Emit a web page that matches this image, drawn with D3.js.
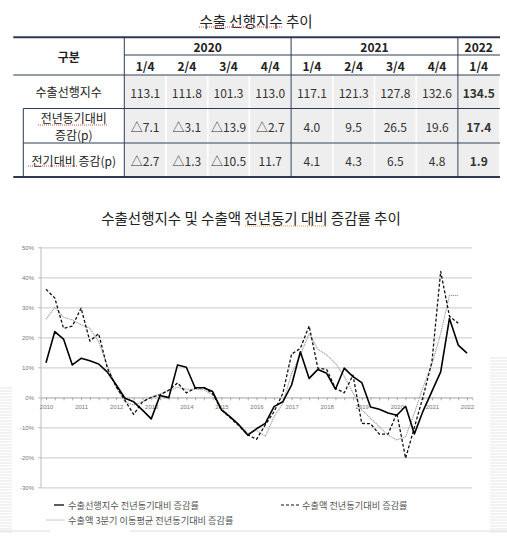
<!DOCTYPE html>
<html>
<head>
<meta charset="utf-8">
<script src="https://cdn.jsdelivr.net/npm/d3@7/dist/d3.min.js"></script>
<style>
body { margin: 0; background: #fff; }
svg { display: block; font-family: "Noto Sans CJK KR", "Noto Sans", sans-serif; }
</style>
</head>
<body>
<svg width="507" height="537"></svg>
<script>
// **** table data ****
var tableYears = ['2020', '2021', '2022'];
var yearSpan = [4, 4, 1];
var tableQuarters = ['1/4', '2/4', '3/4', '4/4', '1/4', '2/4', '3/4', '4/4', '1/4'];
var rowLabels = [['수출선행지수'], ['전년동기대비', '증감(p)'], ['전기대비 증감(p)']];
var leadIndex = ['113.1', '111.8', '101.3', '113.0', '117.1', '121.3', '127.8', '132.6', '134.5'];
var yoyChange = ['△7.1', '△3.1', '△13.9', '△2.7', '4.0', '9.5', '26.5', '19.6', '17.4'];
var qoqChange = ['△2.7', '△1.3', '△10.5', '11.7', '4.1', '4.3', '6.5', '4.8', '1.9'];

// **** chart data (%, quarterly, 2010 1/4 ~ 2022 1/4) ****
var chartYears = ['2010', '2011', '2012', '2013', '2014', '2015', '2016', '2017', '2018', '2019', '2020', '2021', '2022'];
var yTicks = [-30, -20, -10, 0, 10, 20, 30, 40, 50];
var leadYoy = [11.5, 21.9, 19.4, 10.8, 13.0, 12.2, 11.1, 8.4, 4.2, -0.3, -1.5, -4.3, -7.2, 0.6, -0.1, 10.8,
    10.0, 3.2, 3.2, 1.9, -4.2, -6.5, -9.2, -12.6, -10.5, -8.7, -3.1, -1.5, 4.1, 15.2, 6.3, 9.3,
    8.0, 2.7, 9.7, 6.9, 4.9, -3.2, -4.0, -5.2, -6.0, -3.0, -12.2, -4.5, 2.0, 8.5, 26.3, 17.4, 14.7];
var exportYoy = [36.0, 33.1, 23.0, 23.7, 29.7, 18.7, 21.2, 9.7, 3.5, -1.0, -5.7, -1.5, 0.0, 0.8, 2.4, 4.8,
    1.5, 3.0, 3.3, 1.2, -4.2, -6.8, -9.5, -12.5, -14.0, -9.2, -4.8, 1.3, 14.4, 16.3, 23.8, 9.7,
    9.3, 3.0, 1.5, 7.4, -8.7, -8.8, -12.3, -12.3, -5.3, -20.3, -10.0, 0.3, 11.8, 42.0, 27.0, 24.7];
var exportMa3Yoy = [26.0, 30.0, 26.7, 25.8, 24.2, 23.0, 18.5, 10.5, 3.5, -1.5, -2.6, -1.5, 0.0, 1.1, 2.2, 3.3,
    2.7, 2.7, 2.5, 0.8, -3.5, -6.5, -9.0, -12.0, -11.0, -13.0, -6.5, -2.0, 8.0, 14.0, 21.3, 16.0,
    14.1, 11.3, 7.0, 1.5, -4.2, -7.0, -9.8, -12.6, -14.2, -13.1, -5.3, 3.5, 11.0, 21.3, 34.0, 33.9];

var quarterKeys = [];
chartYears.forEach(function (y) {
    ['1', '2', '3', '4'].forEach(function (q) { quarterKeys.push(y + '.' + q); });
});
quarterKeys = quarterKeys.slice(0, leadYoy.length);

var svg = d3.select('svg');
var navy = '#2c3a56';

// **** table ****
var colX = d3.scaleBand().domain(d3.range(9)).range([124.3, 499.6]);
var rowY = [37.3, 55, 75, 108.5, 143, 177];
var bodyRows = [leadIndex, yoyChange, qoqChange];

svg.append('text')
    .attr('x', 256).attr('y', 20)
    .attr('text-anchor', 'middle').attr('dominant-baseline', 'central')
    .style('font-size', '14.5px').style('fill', '#222')
    .text('수출 선행지수 추이');

// grey cells
bodyRows.forEach(function (row, r) {
    svg.append('g').selectAll('rect')
        .data(row)
        .enter().append('rect')
        .attr('x', function (d, i) { return colX(i) + 0.8; })
        .attr('width', colX.bandwidth() - 1.6)
        .attr('y', rowY[r + 2] + 0.5)
        .attr('height', rowY[r + 3] - rowY[r + 2] - 1)
        .style('fill', '#eeeeee');
});

// rules
var hRules = [[13.3, 500, rowY[0], 2], [124.3, 500, rowY[1], 1], [13.3, 500, rowY[2], 1.2],
    [23.3, 500, rowY[3], 1], [23.3, 500, rowY[4], 1], [13.3, 500, rowY[5], 2]];
svg.append('g').selectAll('line')
    .data(hRules)
    .enter().append('line')
    .attr('x1', function (d) { return d[0]; })
    .attr('x2', function (d) { return d[1]; })
    .attr('y1', function (d) { return d[2]; })
    .attr('y2', function (d) { return d[2]; })
    .style('stroke', navy)
    .style('stroke-width', function (d) { return d[3]; });

var vRules = [[colX(0), rowY[0], rowY[5]], [colX(4), rowY[0], rowY[5]], [colX(8), rowY[0], rowY[5]], [23.3, rowY[3], rowY[5]]];
svg.append('g').selectAll('line')
    .data(vRules)
    .enter().append('line')
    .attr('x1', function (d) { return d[0]; })
    .attr('x2', function (d) { return d[0]; })
    .attr('y1', function (d) { return d[1]; })
    .attr('y2', function (d) { return d[2]; })
    .style('stroke', navy)
    .style('stroke-width', 1);

var cellText = function (sel) {
    return sel.attr('text-anchor', 'middle')
        .attr('dominant-baseline', 'central')
        .style('font-size', '12px');
};

svg.append('text').call(cellText)
    .attr('x', 68.7).attr('y', 56)
    .style('font-weight', 'bold').style('fill', '#222')
    .text('구분');

var spanStart = 0;
tableYears.forEach(function (y, i) {
    var x0 = colX(spanStart), x1 = colX(spanStart + yearSpan[i] - 1) + colX.bandwidth();
    svg.append('text').call(cellText)
        .attr('x', (x0 + x1) / 2).attr('y', 46)
        .style('font-weight', 'bold').style('fill', '#222')
        .text(y);
    spanStart += yearSpan[i];
});

svg.append('g').selectAll('text')
    .data(tableQuarters)
    .enter().append('text').call(cellText)
    .attr('x', function (d, i) { return colX(i) + colX.bandwidth() / 2; })
    .attr('y', 65.5)
    .style('font-weight', 'bold').style('fill', '#222')
    .text(function (d) { return d; });

var labelX = [68.7, 73.8, 73.8];
rowLabels.forEach(function (lines, r) {
    var mid = (rowY[r + 2] + rowY[r + 3]) / 2;
    svg.append('g').selectAll('text')
        .data(lines)
        .enter().append('text').call(cellText)
        .attr('x', labelX[r])
        .attr('y', function (d, i) { return mid + (i - (lines.length - 1) / 2) * 16.5; })
        .style('fill', '#222')
        .text(function (d) { return d; });
});

bodyRows.forEach(function (row, r) {
    svg.append('g').selectAll('text')
        .data(row)
        .enter().append('text').call(cellText)
        .attr('x', function (d, i) { return colX(i) + colX.bandwidth() / 2; })
        .attr('y', (rowY[r + 2] + rowY[r + 3]) / 2 + 0.5)
        .style('fill', '#333')
        .style('font-weight', function (d, i) { return i === 8 ? 'bold' : 'normal'; })
        .text(function (d) { return d; });
});

// spell-check underlines seen in the picture
var squiggles = [[199, 283, 27, '#d05050'], [38, 107, 125, '#d05050'], [28, 77, 166, '#d05050'], [245, 327, 226, '#d8943c']];
svg.append('g').selectAll('line')
    .data(squiggles)
    .enter().append('line')
    .attr('x1', function (d) { return d[0]; })
    .attr('x2', function (d) { return d[1]; })
    .attr('y1', function (d) { return d[2]; })
    .attr('y2', function (d) { return d[2]; })
    .style('stroke', function (d) { return d[3]; })
    .style('stroke-width', 1)
    .style('stroke-dasharray', '1,1');

// **** chart ****
var xScale = d3.scalePoint().domain(quarterKeys).range([41, 472]).padding(0.57);
var yScale = d3.scaleLinear().domain([-30, 50]).range([487.3, 247.3]);

svg.append('text')
    .attr('x', 251).attr('y', 217)
    .attr('text-anchor', 'middle').attr('dominant-baseline', 'central')
    .style('font-size', '14.5px').style('fill', '#222')
    .text('수출선행지수 및 수출액 전년동기 대비 증감률 추이');

var grid = svg.append('g').attr('class', 'grid')
    .attr('transform', 'translate(41,0)')
    .call(d3.axisLeft(yScale).tickValues(yTicks).tickSize(-431).tickFormat(''));
grid.select('.domain').remove();
grid.selectAll('line').style('stroke', '#d3d3d3').style('stroke-width', 1.3);

var yAxis = svg.append('g').attr('class', 'y axis')
    .attr('transform', 'translate(41,0)')
    .call(d3.axisLeft(yScale).tickValues(yTicks).tickSize(3).tickPadding(4)
        .tickFormat(function (d) { return d + '%'; }));
yAxis.select('.domain').attr('d', 'M0,' + yScale(50) + 'V' + yScale(-30)).style('stroke', '#bdbdbd');
yAxis.selectAll('line').style('stroke', '#bdbdbd');
yAxis.selectAll('text').style('font-size', '6px').style('fill', '#777')
    .style('font-family', '"Liberation Sans", sans-serif');

var xAxis = svg.append('g').attr('class', 'x axis')
    .attr('transform', 'translate(0,' + yScale(0) + ')')
    .call(d3.axisBottom(xScale).tickSize(3).tickPadding(4)
        .tickFormat(function (d) { return d.slice(-2) === '.1' ? d.slice(0, 4) : ''; }));
xAxis.select('.domain').style('stroke', '#c4c4c4').style('stroke-width', 1.3);
xAxis.selectAll('line').style('stroke', '#aaa');
xAxis.selectAll('text').style('font-size', '6px').style('fill', '#777')
    .style('font-family', '"Liberation Sans", sans-serif');

var series = [
    { values: exportMa3Yoy, color: '#a0a0a0', width: 1.1, dash: '1.3,0.7' },
    { values: exportYoy, color: '#111', width: 1.3, dash: '3,2' },
    { values: leadYoy, color: '#000', width: 1.6, dash: null }
];

var line = d3.line()
    .x(function (d, i) { return xScale(quarterKeys[i]); })
    .y(function (d) { return yScale(d); });

svg.append('g').selectAll('path')
    .data(series)
    .enter().append('path')
    .attr('d', function (d) { return line(d.values); })
    .style('fill', 'none')
    .style('stroke', function (d) { return d.color; })
    .style('stroke-width', function (d) { return d.width; })
    .style('stroke-dasharray', function (d) { return d.dash; })
    .style('stroke-linejoin', 'round');

// Legend
var legendItems = [
    { x0: 54, x1: 64, tx: 68, y: 505, text: '수출선행지수 전년동기대비 증감률', s: series[2] },
    { x0: 281, x1: 299, tx: 302, y: 505, text: '수출액 전년동기대비 증감률', s: series[1] },
    { x0: 46.5, x1: 65, tx: 68, y: 520, text: '수출액 3분기 이동평균 전년동기대비 증감률', s: series[0] }
];
var legend = svg.append('g').attr('class', 'legend');
legend.selectAll('line')
    .data(legendItems)
    .enter().append('line')
    .attr('x1', function (d) { return d.x0; })
    .attr('x2', function (d) { return d.x1; })
    .attr('y1', function (d) { return d.y; })
    .attr('y2', function (d) { return d.y; })
    .style('stroke', function (d) { return d.s.color; })
    .style('stroke-width', function (d) { return d.s.width * 0.8; })
    .style('stroke-dasharray', function (d) { return d.s.dash; });
legend.selectAll('text')
    .data(legendItems)
    .enter().append('text')
    .attr('x', function (d) { return d.tx; })
    .attr('y', function (d) { return d.y; })
    .attr('dominant-baseline', 'central')
    .style('font-size', '9.2px')
    .style('fill', '#555')
    .text(function (d) { return d.text; });

// faint stripes at the picture's edges
var stripes = svg.append('g').style('stroke', '#e6e6e6').style('stroke-width', 1);
stripes.selectAll('.l')
    .data(d3.range(388, 535, 3))
    .enter().append('line')
    .attr('x1', 0).attr('x2', 12)
    .attr('y1', function (d) { return d; }).attr('y2', function (d) { return d; });
stripes.selectAll('.r')
    .data(d3.range(358, 535, 3))
    .enter().append('line')
    .attr('x1', 490).attr('x2', 507)
    .attr('y1', function (d) { return d; }).attr('y2', function (d) { return d; });
svg.append('line').attr('x1', 130).attr('x2', 507).attr('y1', 531).attr('y2', 531)
    .style('stroke', '#e8e8e8').style('stroke-width', 1.5);
svg.append('line').attr('x1', 0).attr('x2', 50).attr('y1', 531).attr('y2', 531)
    .style('stroke', '#e8e8e8').style('stroke-width', 1.5);
</script>
</body>
</html>
